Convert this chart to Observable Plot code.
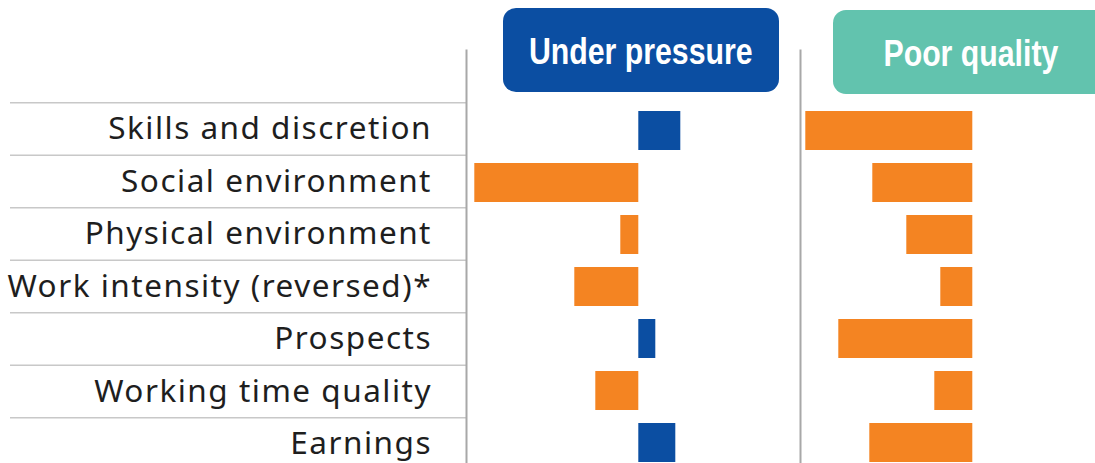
<!DOCTYPE html>
<html>
<head>
<meta charset="utf-8">
<script src="https://cdn.jsdelivr.net/npm/d3@7"></script>
<script src="https://cdn.jsdelivr.net/npm/@observablehq/plot@0.6"></script>
<style>
  html, body { margin: 0; padding: 0; background: #fff; overflow: hidden; }
  #wrap { position: relative; width: 1134px; height: 470px; display: flex; }
  #wrap svg { overflow: visible; display: block; }
  .box { position: absolute; display: flex; align-items: center; justify-content: center;
         color: #fff; font-family: "Liberation Sans", Arial, sans-serif;
         font-weight: bold; font-size: 37px; border-radius: 13px; }
  .box span { display: inline-block; transform: scaleX(0.818); white-space: nowrap; position: relative; top: 2px; }
</style>
</head>
<body>
<div id="wrap"></div>
<script>
// ---- data ----
const categories = [
  "Skills and discretion",
  "Social environment",
  "Physical environment",
  "Work intensity (reversed)*",
  "Prospects",
  "Working time quality",
  "Earnings"
];
const panelTitles = ["Under pressure", "Poor quality"];
const underPressure = [4.2, -16.4, -1.8, -6.4, 1.7, -4.3, 3.7];
const poorQuality  = [-16.7, -10.0, -6.6, -3.2, -13.4, -3.8, -10.3];

// ---- layout constants ----
const H = 470, TOP = 50;
const rowRange = [102.3, 469.8];
const blue = "#0B4EA2", orange = "#F48422", teal = "#62C3AE";
const xDomain = [-17.23, 16.17];

const wrap = document.getElementById("wrap");

// label column
const rowIdx = categories.map((c, i) => ({label: c, mid: i + 0.5}));
const labelPlot = Plot.plot({
  width: 466, height: H,
  marginTop: TOP, marginBottom: 0, marginLeft: 10, marginRight: 0,
  x: {axis: null, domain: [0, 1]},
  y: {axis: null, domain: [0, categories.length], range: rowRange},
  style: {fontFamily: "'Noto Sans', sans-serif", letterSpacing: "1.5px"},
  marks: [
    Plot.ruleY(d3.range(categories.length + 1), {stroke: "#c8c8c8", strokeWidth: 1.6}),
    Plot.text(rowIdx, {y: "mid", text: "label", frameAnchor: "right", textAnchor: "end",
      dx: -34.5, fontSize: 31.5, fill: "#1e1e1e"})
  ]
});
wrap.appendChild(labelPlot);

function panel(values) {
  const data = categories.map((c, i) => ({cat: c, v: values[i]}));
  const pi = 0.25;
  const gap = (rowRange[1] - rowRange[0]) / categories.length * pi;
  return Plot.plot({
    width: 334, height: H,
    marginTop: TOP, marginBottom: 0, marginLeft: 0, marginRight: 0,
    x: {axis: null, domain: xDomain},
    y: {axis: null, domain: categories, range: rowRange, paddingInner: pi, paddingOuter: pi / 2},
    marks: [
      Plot.frame({anchor: "left", stroke: "#a8a8a8", strokeWidth: 2}),
      Plot.ruleX(data, {x: () => 0, y: "cat", stroke: "#c4c4c4", strokeWidth: 2,
        insetTop: -gap / 2, insetBottom: -gap / 2}),
      Plot.barX(data, {x: "v", y: "cat", fill: d => d.v >= 0 ? blue : orange})
    ]
  });
}
wrap.appendChild(panel(underPressure));
wrap.appendChild(panel(poorQuality));

// panel title boxes
const boxes = [
  {t: panelTitles[0], left: 503, top: 8, w: 276, h: 84, bg: blue},
  {t: panelTitles[1], left: 833, top: 10, w: 275, h: 84, bg: teal}
];
for (const b of boxes) {
  const d = document.createElement("div");
  d.className = "box";
  const s = document.createElement("span");
  s.textContent = b.t;
  d.appendChild(s);
  Object.assign(d.style, {left: b.left + "px", top: b.top + "px", width: b.w + "px",
    height: b.h + "px", background: b.bg});
  wrap.appendChild(d);
}
</script>
</body>
</html>
